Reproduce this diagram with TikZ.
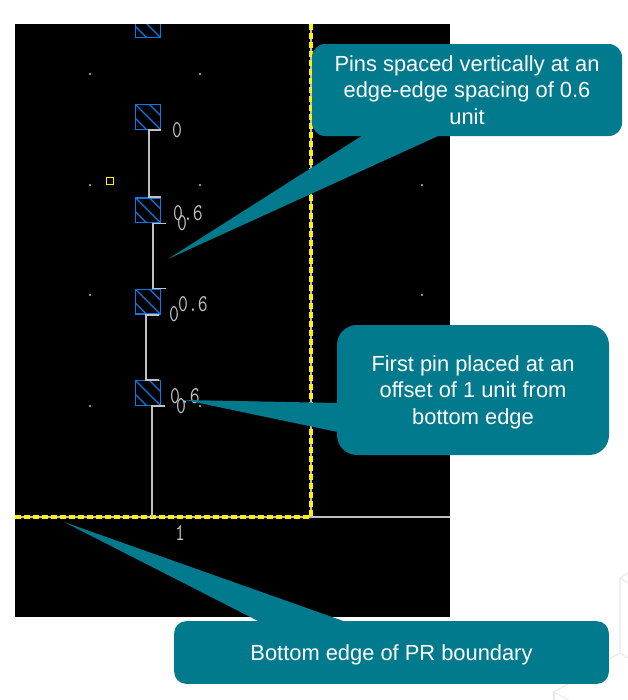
\documentclass[tikz,border=0pt]{standalone}
\usepackage{xcolor}
\usepackage{fontspec}
\usetikzlibrary{calc}
\setmainfont{Liberation Sans}
\definecolor{callteal}{HTML}{007A8C}
\definecolor{pinblue}{HTML}{0A78E6}
\definecolor{layoutgray}{HTML}{C0C0C4}
\definecolor{dotgray}{HTML}{8A8A95}
\definecolor{boundyellow}{HTML}{FFF200}
\definecolor{hexgray}{HTML}{E9E9E9}

\begin{document}
\begin{tikzpicture}[x=0.75pt, y=-0.75pt]
    \tikzstyle{callout} = [rectangle, fill=callteal, text=white, align=center, inner sep=0pt, font=\fontsize{16.4}{19.8}\selectfont]
    \tikzstyle{pinbox} = [rectangle, draw=pinblue, line width=1.2pt, minimum size=18.5pt, inner sep=0pt,
        path picture={\foreach \o in {-14,0,14} {\draw [pinblue, line width=0.9pt] ($(path picture bounding box.north west)+(\o,0)$) -- ++(30,30);}}]
    \tikzstyle{wire} = [draw=layoutgray, line width=1.2pt]
    \tikzstyle{bound} = [draw=boundyellow, line width=3.7pt, dash pattern=on 4.4pt off 2.35pt]
    \tikzstyle{pinlabel} = [text=layoutgray, inner sep=0pt, font=\fontsize{14.4}{14}\ttfamily, yscale=1.25, transform shape]
    \tikzstyle{hexline} = [draw=hexgray, line width=0.8pt]

    \useasboundingbox (0,0) rectangle (628,700);

    % faint background
    \draw [hexline] (628,573) -- (620,578) -- (628,583);
    \draw [hexline] (620,578) -- (620,653) -- (628,658);
    \draw [hexline] (620,653) -- (609,659);
    \draw [hexline] (568,684) -- (554,692) -- (570,701);
    \draw [hexline] (554,692) -- (554,700);

    % layout window
    \fill [black] (15,24) rectangle (450,617);
    \foreach \x/\y in {90/74, 200/74, 90/185, 200/185, 422/185, 90/295, 422/295, 90/406, 200/406}
        \fill [dotgray] (\x-1,\y-1) rectangle (\x+1,\y+1);
    \node [draw=boundyellow, line width=1.2pt, minimum size=5pt, inner sep=0pt] (marker) at (110,181) {};

    % pins
    \begin{scope}
        \clip (15,24) rectangle (450,617);
        \node [pinbox] (pina) at (148,117) {};
        \node [pinbox, above of=pina, node distance=69pt] (pintop) {};
        \node [pinbox, below of=pina, node distance=70pt] (pinb) {};
        \node [pinbox, below of=pinb, node distance=68.5pt] (pinc) {};
        \node [pinbox, below of=pinc, node distance=68.5pt] (pind) {};
    \end{scope}

    % boundary
    \coordinate (corner) at (311,517);
    \coordinate (boundleft) at (15,517);
    \coordinate (boundtop) at (311,24);
    \coordinate (boundright) at (450,517);
    \coordinate (pinfoot) at (152,517);
    \draw [wire] (boundleft) -- (boundright);
    \draw [wire] (boundtop) -- (corner);
    \draw [bound] (boundleft) -- (corner) -- (boundtop);

    % wires
    \path [wire] (pina.south east) -- ++(-12,0) |- (pinb.north east);
    \path [wire] ($(pinb.south east)+(5,0)$) -- ++(-13,0) |- ($(pinc.north east)+(5,0)$);
    \path [wire] ($(pinc.south east)+(-2,0)$) -- ++(-13,0) |- ($(pind.north east)+(-2,0)$);
    \path [wire] ($(pind.south east)+(4,0)$) -- ++(-13,0) |- (pinfoot);

    % labels
    \node [pinlabel] (la) at (177,130) {0};
    \node [pinlabel] (lb) at (188,213) {0.6};
    \node [pinlabel] (lbz) at (182,223) {0};
    \node [pinlabel] (lc) at (193,304) {0.6};
    \node [pinlabel] (lcz) at (174,314) {0};
    \node [pinlabel] (ld) at (185,396) {0.6};
    \node [pinlabel] (ldz) at (181,406) {0};
    \node [pinlabel] (lone) at (180,533) {1};

    % callouts
    \node [callout, minimum width=232.5pt, minimum height=69pt, rounded corners=10pt] (calla) at (467,90)
        {Pins spaced vertically at an \\ edge-edge spacing of 0.6 \\ unit};
    \node [callout, minimum width=204pt, minimum height=97.5pt, rounded corners=15pt] (callb) at (473,390)
        {\rule{0pt}{15pt}First pin placed at an \\ offset of 1 unit from \\ bottom edge};
    \node [callout, minimum width=326pt, minimum height=47pt, rounded corners=9pt, text depth=0pt] (callc) at (391.5,652.5)
        {Bottom edge of PR boundary};

    \coordinate (tipa) at (168,259);
    \coordinate (tipb) at (185,400);
    \coordinate (tipc) at (64,522);
    \fill [callteal] ($(calla.south west)+(51,-1)$) -- (tipa) -- ($(calla.south west)+(128,-1)$) -- cycle;
    \fill [callteal] ($(callb.west)+(1,13)$) -- (tipb) -- ($(callb.west)+(1,42)$) -- cycle;
    \fill [callteal] ($(callc.north west)+(86,1)$) -- (tipc) -- ($(callc.north west)+(172,1)$) -- cycle;
\end{tikzpicture}
\end{document}
